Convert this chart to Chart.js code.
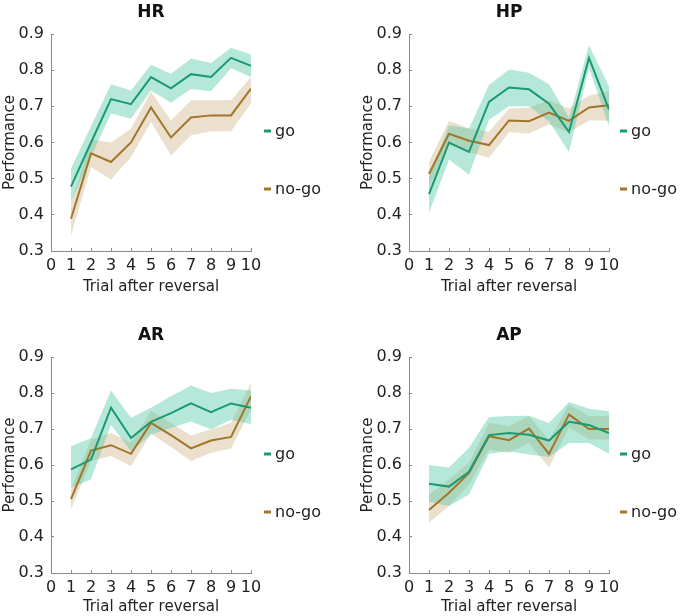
<!DOCTYPE html>
<html>
<head>
<meta charset="utf-8">
<script src="https://cdn.jsdelivr.net/npm/chart.js@4/dist/chart.umd.min.js"></script>
<style>
  body { margin: 0; background: #fff; }
  #wrap { position: relative; width: 682px; height: 616px; overflow: hidden; }
  #wrap canvas { position: absolute; }
</style>
</head>
<body>
<div id="wrap">
  <canvas id="cHR" width="341" height="300" style="left:0;top:0"></canvas>
  <canvas id="cHP" width="341" height="300" style="left:341px;top:0"></canvas>
  <canvas id="cAR" width="341" height="316" style="left:0;top:300px"></canvas>
  <canvas id="cAP" width="341" height="316" style="left:341px;top:300px"></canvas>
</div>
<script>
// ---- data ----
const trials = [1, 2, 3, 4, 5, 6, 7, 8, 9, 10];
const xTicks = [0, 1, 2, 3, 4, 5, 6, 7, 8, 9, 10];
const yTicks = [0.3, 0.4, 0.5, 0.6, 0.7, 0.8, 0.9];
const seriesNames = ['go', 'no-go'];

// HR
const hrGo   = [0.478, 0.600, 0.720, 0.706, 0.781, 0.750, 0.789, 0.781, 0.834, 0.812];
const hrGoHi = [0.528, 0.645, 0.761, 0.744, 0.815, 0.790, 0.832, 0.820, 0.862, 0.843];
const hrGoLo = [0.435, 0.560, 0.680, 0.666, 0.744, 0.710, 0.748, 0.742, 0.805, 0.781];
const hrNo   = [0.389, 0.570, 0.546, 0.600, 0.697, 0.614, 0.669, 0.675, 0.675, 0.749];
const hrNoHi = [0.430, 0.608, 0.600, 0.638, 0.740, 0.661, 0.717, 0.717, 0.717, 0.781];
const hrNoLo = [0.343, 0.532, 0.498, 0.560, 0.657, 0.564, 0.620, 0.631, 0.631, 0.708];

// HP
const hpGo   = [0.457, 0.600, 0.574, 0.712, 0.752, 0.747, 0.707, 0.629, 0.834, 0.691];
const hpGoHi = [0.506, 0.648, 0.639, 0.759, 0.802, 0.793, 0.761, 0.668, 0.869, 0.755];
const hpGoLo = [0.405, 0.553, 0.511, 0.663, 0.700, 0.700, 0.658, 0.574, 0.806, 0.644];
const hpNo   = [0.513, 0.624, 0.605, 0.593, 0.661, 0.659, 0.683, 0.660, 0.697, 0.703];
const hpNoHi = [0.547, 0.660, 0.639, 0.630, 0.694, 0.696, 0.717, 0.694, 0.730, 0.742];
const hpNoLo = [0.477, 0.593, 0.574, 0.558, 0.628, 0.625, 0.650, 0.628, 0.661, 0.661];

// AR
const arGo   = [0.588, 0.615, 0.759, 0.675, 0.720, 0.744, 0.771, 0.747, 0.771, 0.759];
const arGoHi = [0.652, 0.675, 0.807, 0.731, 0.759, 0.791, 0.821, 0.800, 0.812, 0.807];
const arGoLo = [0.537, 0.560, 0.712, 0.638, 0.685, 0.703, 0.721, 0.699, 0.726, 0.714];
const arNo   = [0.505, 0.640, 0.655, 0.631, 0.717, 0.683, 0.646, 0.668, 0.678, 0.791];
const arNoHi = [0.532, 0.671, 0.689, 0.662, 0.751, 0.717, 0.682, 0.699, 0.717, 0.828];
const arNoLo = [0.477, 0.611, 0.625, 0.597, 0.687, 0.650, 0.611, 0.634, 0.646, 0.754];

// AP
const apGo   = [0.548, 0.540, 0.581, 0.683, 0.689, 0.684, 0.668, 0.720, 0.711, 0.689];
const apGoHi = [0.600, 0.593, 0.648, 0.733, 0.736, 0.737, 0.717, 0.775, 0.756, 0.749];
const apGoLo = [0.498, 0.486, 0.518, 0.631, 0.638, 0.629, 0.622, 0.661, 0.661, 0.631];
const apNo   = [0.475, 0.523, 0.578, 0.680, 0.669, 0.701, 0.631, 0.740, 0.700, 0.700];
const apNoHi = [0.518, 0.560, 0.606, 0.717, 0.708, 0.736, 0.668, 0.768, 0.736, 0.736];
const apNoLo = [0.440, 0.486, 0.546, 0.643, 0.634, 0.661, 0.593, 0.705, 0.671, 0.671];

// ---- styles ----
const GO = '#1a9a74';
const NOGO = '#a2762a';
const GO_FILL = 'rgba(80,200,165,0.42)';
const NOGO_FILL = 'rgba(190,150,90,0.3)';
const AXIS = '#8a8a8a';
const TEXT = '#222';
const FONT = '"DejaVu Sans", sans-serif';

Chart.defaults.font.family = FONT;

const pts = arr => trials.map((t, i) => ({ x: t, y: arr[i] }));

// legend to the right of the axes, MATLAB style
const sideLegend = {
  id: 'sideLegend',
  afterDraw(chart, args, opts) {
    const { ctx, chartArea } = chart;
    ctx.save();
    ctx.font = '16px ' + FONT;
    ctx.textBaseline = 'middle';
    chart.data.datasets.filter(d => d.label).forEach((d, i) => {
      const x = chartArea.right + opts.dx;
      const y = chartArea.top + opts.rows[i];
      ctx.fillStyle = d.borderColor;
      ctx.fillRect(x, y - 1.5, 7, 3);
      ctx.fillStyle = TEXT;
      ctx.fillText(d.label, x + 11, y + 1);
    });
    ctx.restore();
  }
};

function makePanel(id, title, s, box) {
  const [go, goHi, goLo, no, noHi, noLo] = s;
  const line = (label, data, color) => ({
    label, data: pts(data), borderColor: color, backgroundColor: color,
    borderWidth: 2, pointRadius: 0, fill: false, order: 0,
  });
  const band = (data, fill, color, order) => ({
    data: pts(data), borderWidth: 0, pointRadius: 0, fill,
    backgroundColor: color, borderColor: 'transparent', order,
  });

  new Chart(document.getElementById(id), {
    type: 'line',
    data: {
      datasets: [
        line(seriesNames[0], go, GO),
        line(seriesNames[1], no, NOGO),
        band(goLo, false, GO_FILL, 1),
        band(goHi, '-1', GO_FILL, 1),
        band(noLo, false, NOGO_FILL, 2),
        band(noHi, '-1', NOGO_FILL, 2),
      ],
    },
    options: {
      responsive: false,
      animation: false,
      layout: { padding: { left: box.padL, right: box.padR, top: box.padT, bottom: 0 } },
      plugins: {
        legend: { display: false },
        tooltip: { enabled: false },
        title: {
          display: true, text: title, fullSize: false, color: '#111',
          font: { size: 17, weight: 'bold' }, padding: { top: 2, bottom: 11.6 },
        },
        sideLegend: { dx: box.legDx, rows: [97, 155] },
      },
      scales: {
        x: {
          type: 'linear', min: 0, max: 10,
          afterBuildTicks: sc => { sc.ticks = xTicks.map(v => ({ value: v })); },
          afterFit: sc => { sc.height = box.xH; },
          ticks: { color: TEXT, font: { size: 16 }, padding: 8, autoSkip: false, maxRotation: 0 },
          grid: { drawOnChartArea: false, tickLength: -3, color: AXIS },
          border: { color: AXIS },
          title: { display: true, text: 'Trial after reversal', color: TEXT, font: { size: 15 }, padding: { top: 0, bottom: box.xTitlePad } },
        },
        y: {
          min: 0.3, max: 0.9,
          afterBuildTicks: sc => { sc.ticks = yTicks.map(v => ({ value: v })); },
          afterFit: sc => { sc.width = 51; },
          ticks: { color: TEXT, font: { size: 16 }, padding: 10, callback: v => v.toFixed(1) },
          grid: { drawOnChartArea: false, tickLength: -3, color: AXIS },
          border: { color: AXIS },
          title: { display: true, text: 'Performance', color: TEXT, font: { size: 15 }, padding: { top: 1, bottom: 0 } },
        },
      },
    },
    plugins: [sideLegend],
  });
}

makePanel('cHR', 'HR', [hrGo, hrGoHi, hrGoLo, hrNo, hrNoHi, hrNoLo], { padL: 0, padR: 90, padT: 0, xH: 49, xTitlePad: 4, legDx: 13 });
makePanel('cHP', 'HP', [hpGo, hpGoHi, hpGoLo, hpNo, hpNoHi, hpNoLo], { padL: 17, padR: 73, padT: 0, xH: 49, xTitlePad: 4, legDx: 11 });
makePanel('cAR', 'AR', [arGo, arGoHi, arGoLo, arNo, arNoHi, arNoLo], { padL: 0, padR: 90, padT: 23, xH: 43, xTitlePad: 0, legDx: 13 });
makePanel('cAP', 'AP', [apGo, apGoHi, apGoLo, apNo, apNoHi, apNoLo], { padL: 17, padR: 73, padT: 23, xH: 43, xTitlePad: 0, legDx: 11 });
</script>
</body>
</html>
